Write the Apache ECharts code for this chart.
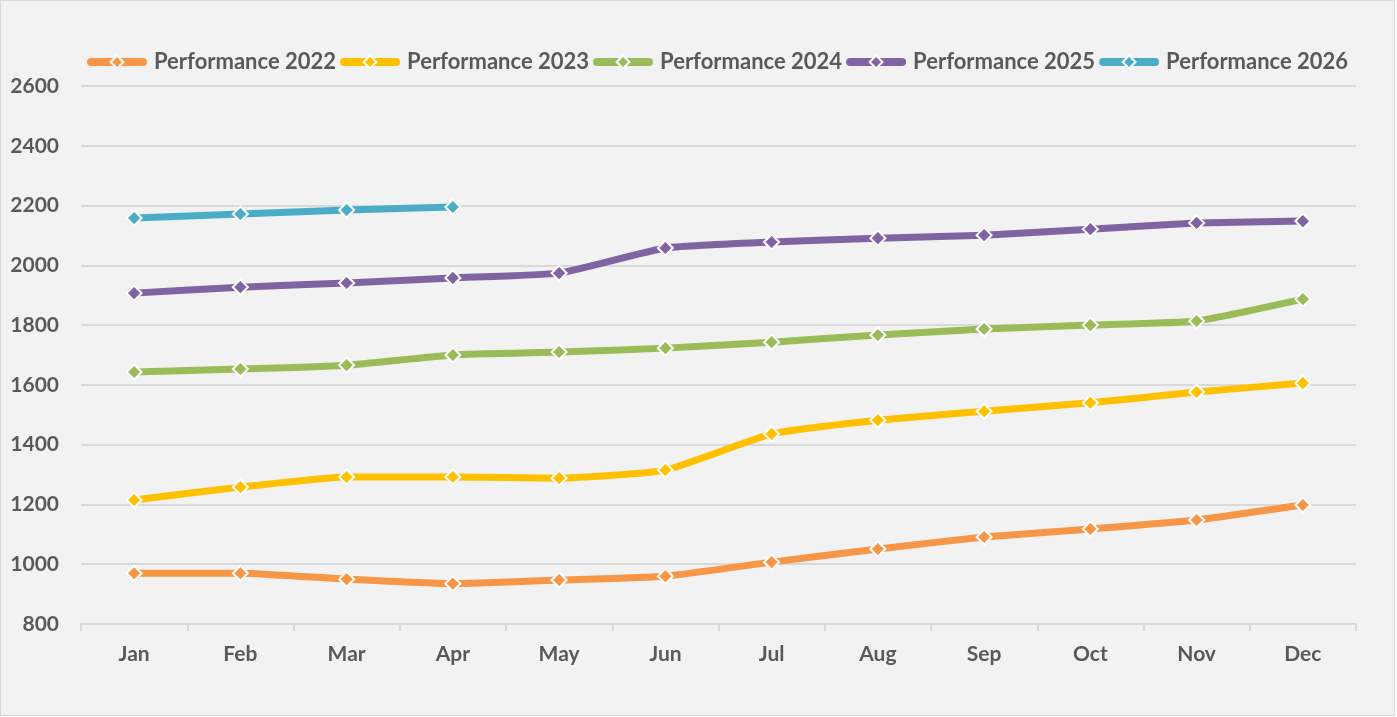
<!DOCTYPE html>
<html>
<head>
<meta charset="utf-8">
<script src="https://cdn.jsdelivr.net/npm/echarts@6/dist/echarts.min.js"></script>
<style>
  html, body { margin: 0; padding: 0; background: #fff; }
  #main { width: 1393px; height: 714px; background: #f2f2f2; border: 1px solid #d9d9d9; }
</style>
</head>
<body>
<div id="main"></div>
<script>
// 月份
var months = ['Jan', 'Feb', 'Mar', 'Apr', 'May', 'Jun', 'Jul', 'Aug', 'Sep', 'Oct', 'Nov', 'Dec'];
// 每年数据
var perf2022 = [970, 970, 950, 935, 947, 960, 1007, 1051, 1091, 1118, 1148, 1198];
var perf2023 = [1215, 1258, 1292, 1292, 1288, 1315, 1436, 1482, 1512, 1540, 1576, 1606];
var perf2024 = [1643, 1653, 1666, 1700, 1710, 1723, 1743, 1767, 1787, 1800, 1814, 1887];
var perf2025 = [1907, 1927, 1941, 1958, 1974, 2058, 2078, 2091, 2101, 2121, 2142, 2148];
var perf2026 = [2158, 2172, 2185, 2195];

var seriesNames = ['Performance 2022', 'Performance 2023', 'Performance 2024', 'Performance 2025', 'Performance 2026'];
var seriesData = [perf2022, perf2023, perf2024, perf2025, perf2026];
var colors = ['#f79646', '#ffc000', '#9bbb59', '#8064a2', '#4bacc6'];

var font = 'Lato, "Open Sans", sans-serif';

var myChart = echarts.init(document.getElementById('main'));

var series = seriesNames.map(function (name, i) {
  return {
    name: name,
    type: 'line',
    data: seriesData[i],
    smooth: 0.15,
    symbol: 'diamond',
    symbolSize: 15,
    lineStyle: { width: 7, color: colors[i] },
    itemStyle: { color: colors[i], borderColor: '#ffffff', borderWidth: 2 }
  };
});

var option = {
  backgroundColor: '#f2f2f2',
  color: colors,
  animation: false,
  legend: {
    top: 45,
    left: 81,
    itemWidth: 52,
    itemHeight: 16,
    itemGap: 4,
    lineStyle: { width: 8, cap: 'round' },
    textStyle: { fontFamily: font, fontWeight: 'bold', fontSize: 22, color: '#595959', padding: [0, 0, 0, 6] },
    data: seriesNames
  },
  grid: { left: 80, right: 38, top: 85, bottom: 91, containLabel: false },
  xAxis: {
    type: 'category',
    data: months,
    boundaryGap: true,
    axisLine: { lineStyle: { color: '#d9d9d9', width: 2 } },
    axisTick: { show: true, length: 7, lineStyle: { color: '#d9d9d9', width: 2 } },
    axisLabel: { margin: 20, fontFamily: font, fontWeight: 'bold', fontSize: 21, color: '#595959' }
  },
  yAxis: {
    type: 'value',
    min: 800,
    max: 2600,
    interval: 200,
    axisLine: { show: false },
    axisTick: { show: false },
    splitLine: { lineStyle: { color: '#d9d9d9', width: 2 } },
    axisLabel: {
      margin: 22, fontFamily: font, fontWeight: 'bold', fontSize: 21, color: '#595959',
      formatter: function (v) { return String(v); }
    }
  },
  series: series
};

myChart.setOption(option);
</script>
</body>
</html>
